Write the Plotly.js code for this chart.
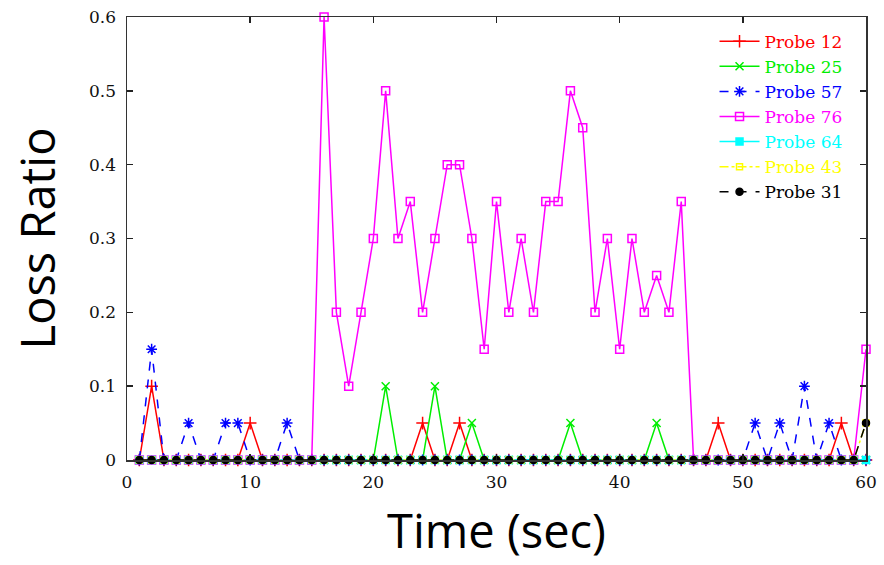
<!DOCTYPE html>
<html>
<head>
<meta charset="utf-8">
<script src="https://cdn.plot.ly/plotly-3.0.1.min.js"></script>
<style>html,body{margin:0;padding:0;background:#fff;}#chart{width:884px;height:565px;}</style>
</head>
<body>
<div id="chart"></div>
<script>
const timeSec = [1,2,3,4,5,6,7,8,9,10,11,12,13,14,15,16,17,18,19,20,21,22,23,24,25,26,27,28,29,30,31,32,33,34,35,36,37,38,39,40,41,42,43,44,45,46,47,48,49,50,51,52,53,54,55,56,57,58,59,60];
const probe12 = [0,0.1,0,0,0,0,0,0,0,0.05,0,0,0,0,0,0,0,0,0,0,0,0,0,0.05,0,0,0.05,0,0,0,0,0,0,0,0,0,0,0,0,0,0,0,0,0,0,0,0,0.05,0,0,0,0,0,0,0,0,0,0.05,0,0];
const probe25 = [0,0,0,0,0,0,0,0,0,0,0,0,0,0,0,0,0,0,0,0,0.1,0,0,0,0.1,0,0,0.05,0,0,0,0,0,0,0,0.05,0,0,0,0,0,0,0.05,0,0,0,0,0,0,0,0,0,0,0,0,0,0,0,0,0];
const probe57 = [0,0.15,0,0,0.05,0,0,0.05,0.05,0,0,0,0.05,0,0,0,0,0,0,0,0,0,0,0,0,0,0,0,0,0,0,0,0,0,0,0,0,0,0,0,0,0,0,0,0,0,0,0,0,0,0.05,0,0.05,0,0.1,0,0.05,0,0,0];
const probe76 = [0,0,0,0,0,0,0,0,0,0,0,0,0,0,0,0.6,0.2,0.1,0.2,0.3,0.5,0.3,0.35,0.2,0.3,0.4,0.4,0.3,0.15,0.35,0.2,0.3,0.2,0.35,0.35,0.5,0.45,0.2,0.3,0.15,0.3,0.2,0.25,0.2,0.35,0,0,0,0,0,0,0,0,0,0,0,0,0,0,0.15];
const probe64 = [0,0,0,0,0,0,0,0,0,0,0,0,0,0,0,0,0,0,0,0,0,0,0,0,0,0,0,0,0,0,0,0,0,0,0,0,0,0,0,0,0,0,0,0,0,0,0,0,0,0,0,0,0,0,0,0,0,0,0,0];
const probe43 = [0,0,0,0,0,0,0,0,0,0,0,0,0,0,0,0,0,0,0,0,0,0,0,0,0,0,0,0,0,0,0,0,0,0,0,0,0,0,0,0,0,0,0,0,0,0,0,0,0,0,0,0,0,0,0,0,0,0,0,0.05];
const probe31 = [0,0,0,0,0,0,0,0,0,0,0,0,0,0,0,0,0,0,0,0,0,0,0,0,0,0,0,0,0,0,0,0,0,0,0,0,0,0,0,0,0,0,0,0,0,0,0,0,0,0,0,0,0,0,0,0,0,0,0,0.05];
const xTicks = [0,10,20,30,40,50,60];
const yTicks = [0,0.1,0.2,0.3,0.4,0.5,0.6];
const yTickText = ['0','0.1','0.2','0.3','0.4','0.5','0.6'];

const series = [
  {name:'Probe 12', y:probe12, color:'#ff0000', dash:'solid', symbol:'cross-thin-open', size:9},
  {name:'Probe 25', y:probe25, color:'#00ee00', dash:'solid', symbol:'x-thin-open', size:8},
  {name:'Probe 57', y:probe57, color:'#0000ff', dash:'dash', symbol:'asterisk-open', size:9},
  {name:'Probe 76', y:probe76, color:'#ff00ff', dash:'solid', symbol:'square-open', size:8},
  {name:'Probe 64', y:probe64, color:'#00ffff', dash:'solid', symbol:'square', size:7},
  {name:'Probe 43', y:probe43, color:'#ffff00', dash:'dashdot', symbol:'square-open', size:6},
  {name:'Probe 31', y:probe31, color:'#000000', dash:'dash', symbol:'circle', size:7}
];

const traces = series.map(s => ({
  type:'scatter', mode:'lines+markers', x:timeSec, y:s.y,
  name:'<span style="color:'+s.color+'">'+s.name+'</span>',
  line:{color:s.color, width:1.5, dash:s.dash},
  marker:{color:s.color, symbol:s.symbol, size:s.size, line:{color:s.color, width:1.5}},
  cliponaxis:false
}));

const layout = {
  width:884, height:565,
  margin:{l:127, r:18, t:17, b:105},
  paper_bgcolor:'#ffffff', plot_bgcolor:'#ffffff',
  showlegend:true,
  legend:{x:0.975, xanchor:'right', y:0.985, yanchor:'top', bgcolor:'rgba(0,0,0,0)',
    font:{family:'DejaVu Serif', size:17, color:'#000'}, tracegroupgap:0, itemwidth:40},
  xaxis:{range:[0,60], tickvals:xTicks, ticktext:xTicks.map(String), ticks:'inside', ticklen:6, tickwidth:1.5, tickcolor:'#222',
    showline:true, linecolor:'#333', linewidth:1.5, mirror:'ticks', showgrid:false, zeroline:false,
    ticklabelstandoff:6,
    tickfont:{family:'DejaVu Serif', size:17, color:'#111'},
    title:{text:'Time (sec)\u00a0\u00a0\u00a0\u00a0\u00a0', font:{family:'Open Sans', size:47, color:'#000'}, standoff:24}},
  yaxis:{range:[0,0.6], tickvals:yTicks, ticktext:yTickText, ticks:'inside', ticklen:6, tickwidth:1.5, tickcolor:'#222',
    showline:true, linecolor:'#333', linewidth:1.5, mirror:'ticks', showgrid:false, zeroline:false,
    ticklabelstandoff:6,
    tickfont:{family:'DejaVu Serif', size:17, color:'#111'},
    title:{text:'Loss Ratio\u00a0\u00a0', font:{family:'Open Sans', size:47, color:'#000'}, standoff:18}},
  font:{family:'DejaVu Serif'}
};

Plotly.newPlot('chart', traces, layout, {displayModeBar:false, staticPlot:true});
</script>
</body>
</html>
